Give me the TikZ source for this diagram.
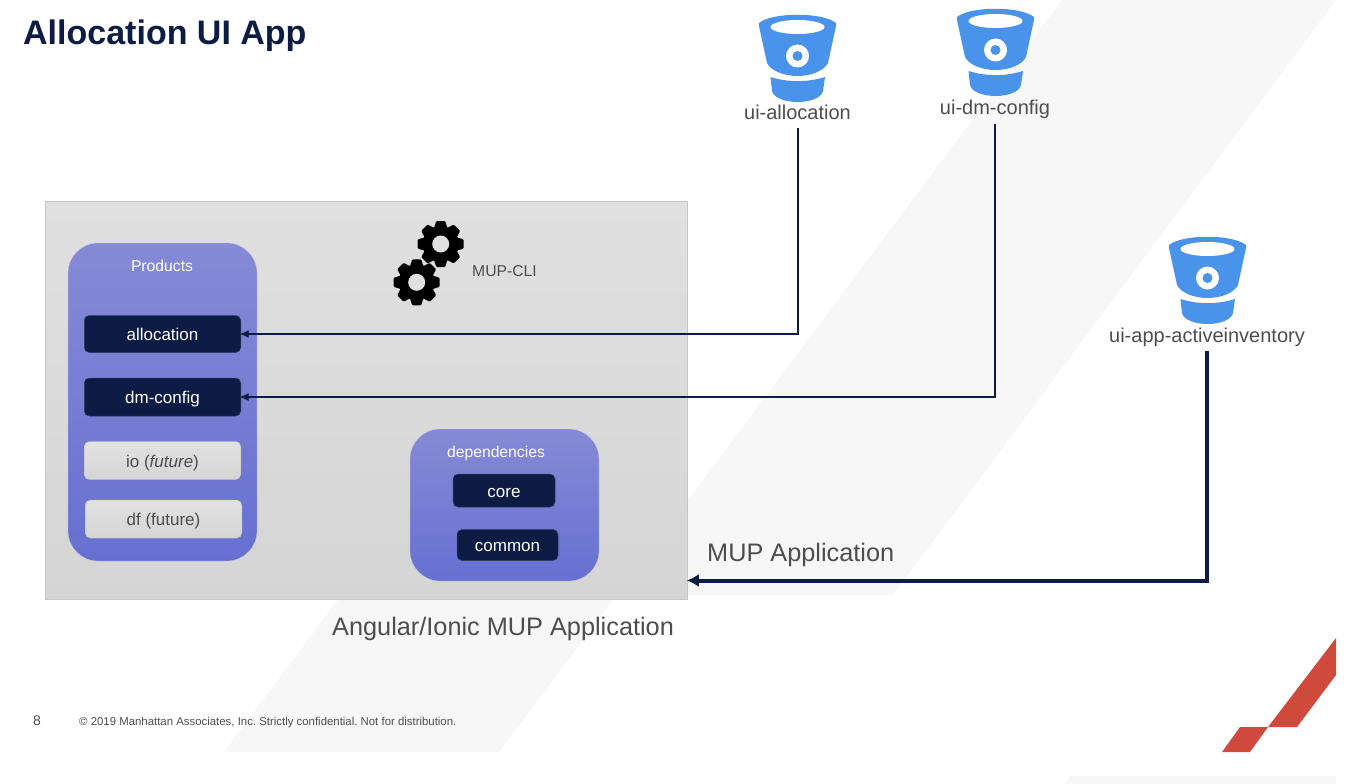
\documentclass[tikz,border=0pt]{standalone}
\usepackage{fontspec}
\setmainfont{Liberation Sans}
\frenchspacing
\usetikzlibrary{arrows.meta}
\usetikzlibrary{positioning}
\definecolor{navy}{HTML}{0D1C45}
\definecolor{inktext}{HTML}{4D4D4D}
\definecolor{bucketblue}{HTML}{4A93EA}
\definecolor{bandgray}{HTML}{F7F7F7}
\definecolor{brandred}{HTML}{CF4A3C}

\tikzset{
  group/.style={rectangle, rounded corners=30pt, inner sep=0pt,
    top color=purple1, bottom color=purple2, draw=purple1!90!black!40, line width=.3pt},
  chip/.style={rectangle, rounded corners=5pt, inner sep=0pt, minimum width=156.5pt,
    text height=2.7ex, text depth=.2ex,
    fill=navy, draw=navy!85!white, line width=.5pt, text=white, font=\fontsize{17}{19}\selectfont},
  idlechip/.style={chip, minimum height=38pt, top color=chiptop, bottom color=chipbot,
    draw=chipbot!92!black, text=inktext},
  bucketname/.style={text=inktext, inner sep=0pt, text height=1.5ex, text depth=.35ex,
    font=\fontsize{20}{24}\selectfont},
  caption/.style={text=inktext, inner sep=0pt, font=\fontsize{25.3}{30}\selectfont},
  flow/.style={draw=navy, line width=2pt, shorten >=-1.5pt, -{Latex[length=9pt,width=8pt]}},
  bigflow/.style={draw=navy, line width=4pt, shorten >=-1pt, -{Latex[length=12pt,width=13pt]}},
  bucket/.pic={
    \fill[bucketblue] (-38.5,-34) .. controls (-25,-45) and (25,-45) .. (38.5,-34)
      -- (38.5,-31) -- (30.5,6) .. controls (27,13) and (15,19) .. (0,19)
      .. controls (-15,19) and (-27,13) .. (-30.5,6) -- (-38.5,-31) -- cycle;
    \fill[white] (0,-30) ellipse [x radius=27, y radius=7];
    \fill[white] (0,-1) circle (11.5);
    \fill[bucketblue] (0,-1) circle (5);
    \fill[bucketblue] (-27,20) .. controls (-10,25.5) and (10,25.5) .. (27.5,20)
      -- (25.5,34) .. controls (24,41) and (12,45) .. (0,45)
      .. controls (-12,45) and (-24,41) .. (-25.5,34) -- cycle;
  },
  gear/.pic={
    \fill[black] (0,0) circle (18);
    \foreach \a in {0,45,...,315}
      \fill[black, rotate=\a, rounded corners=1pt] (-4.5,-23) -- (4.5,-23) -- (7,-15) -- (-7,-15) -- cycle;
    \fill[boxtop] (0,0) circle (8.5);
  }
}
\definecolor{purple1}{HTML}{868AD5}
\definecolor{purple2}{HTML}{6670D1}
\definecolor{boxtop}{HTML}{E0E0E0}
\definecolor{boxbot}{HTML}{D5D5D5}
\definecolor{chiptop}{HTML}{E2E2E2}
\definecolor{chipbot}{HTML}{D5D5D5}

\begin{document}
\begin{tikzpicture}[x=1pt,y=-1pt]
  \useasboundingbox (0,0) rectangle (1358,784);

  % background bands
  \fill[bandgray] (1062,0) -- (1336,0) -- (893,595) -- (617,595) -- cycle;
  \fill[bandgray] (224,752) -- (499,752) -- (615,597) -- (340,597) -- cycle;
  \fill[bandgray] (1070,776) -- (1336,776) -- (1336,784) -- (1065,784) -- cycle;
  \fill[brandred] (1336,638) -- (1336,675) -- (1297,727) -- (1268,727) -- cycle;
  \fill[brandred] (1240,727) -- (1268,727) -- (1250,752) -- (1222,752) -- cycle;

  \node[anchor=west, inner sep=0pt, text=navy, font=\fontsize{34}{40}\selectfont\bfseries] (title)
    at (23,35.5) {Allocation UI App};

  \node[rectangle, inner sep=0pt, minimum width=642pt, minimum height=398pt,
    top color=boxtop, bottom color=boxbot, draw=black!22, line width=.6pt] (appbox) at (366.5,400.5) {};

  \node[group, minimum width=189pt, minimum height=318pt] (products) at (162.5,402) {};
  \node[text=white, inner sep=0pt, font=\fontsize{15.7}{18}\selectfont] (productsname) at (162,265.5) {Products};

  \node[chip, minimum height=37pt] (allocation) at (162.5,334) {allocation};
  \node[chip, minimum height=38pt] (dmconfig) [below=25pt of allocation] {dm-config};
  \node[idlechip] (io) [below=25pt of dmconfig] {io (\textit{future})};
  \node[idlechip] (df) [below=20pt of io, xshift=1pt] {df (future)};

  \node[group, minimum width=189pt, minimum height=152pt] (depends) at (504.5,505) {};
  \node[text=white, inner sep=0pt, font=\fontsize{15.7}{18}\selectfont] (dependsname) at (496,453) {dependencies};
  \node[chip, minimum width=102pt, minimum height=33pt] (core) at (504,490.5) {core};
  \node[chip, minimum width=101pt, minimum height=31pt] (common) [below=22pt of core, xshift=3.5pt] {common};

  \pic (gearone) at (440.7,244) {gear};
  \pic (geartwo) at (416.7,282.3) {gear};
  \node[text=inktext, inner sep=0pt, font=\fontsize{15.7}{18}\selectfont] (mupcli) at (504.5,271) {MUP-CLI};

  \pic (bucketalloc) at (797.5,57) {bucket};
  \pic (bucketdm) at (995.5,51) {bucket};
  \pic (bucketinv) at (1207.5,279) {bucket};

  \node[bucketname] (uialloc) at (797.5,116) {ui-allocation};
  \node[bucketname] (uidm) at (995,111) {ui-dm-config};
  \node[bucketname] (uiinv) at (1207,339) {ui-app-activeinventory};

  \coordinate (appin) at (appbox.east |- 0,580.5);

  \draw[flow] ([yshift=-7pt]uialloc.south) |- (allocation.east);
  \draw[flow] ([yshift=-8pt]uidm.south) |- (dmconfig.east);
  \draw[bigflow] ([yshift=-7pt]uiinv.south) |- (appin);

  \node[caption, anchor=west] (mupapp) at (707,555) {MUP Application};
  \node[caption, anchor=west] (angular) at (332,629) {Angular/Ionic MUP Application};

  \node[text=inktext, anchor=west, inner sep=0pt, font=\fontsize{14}{16}\selectfont] (pagenum) at (33,721) {8};
  \node[text=inktext, anchor=west, inner sep=0pt, font=\fontsize{11.4}{13}\selectfont] (legal) at (79,723)
    {© 2019 Manhattan Associates, Inc. Strictly confidential. Not for distribution.};
\end{tikzpicture}
\end{document}
